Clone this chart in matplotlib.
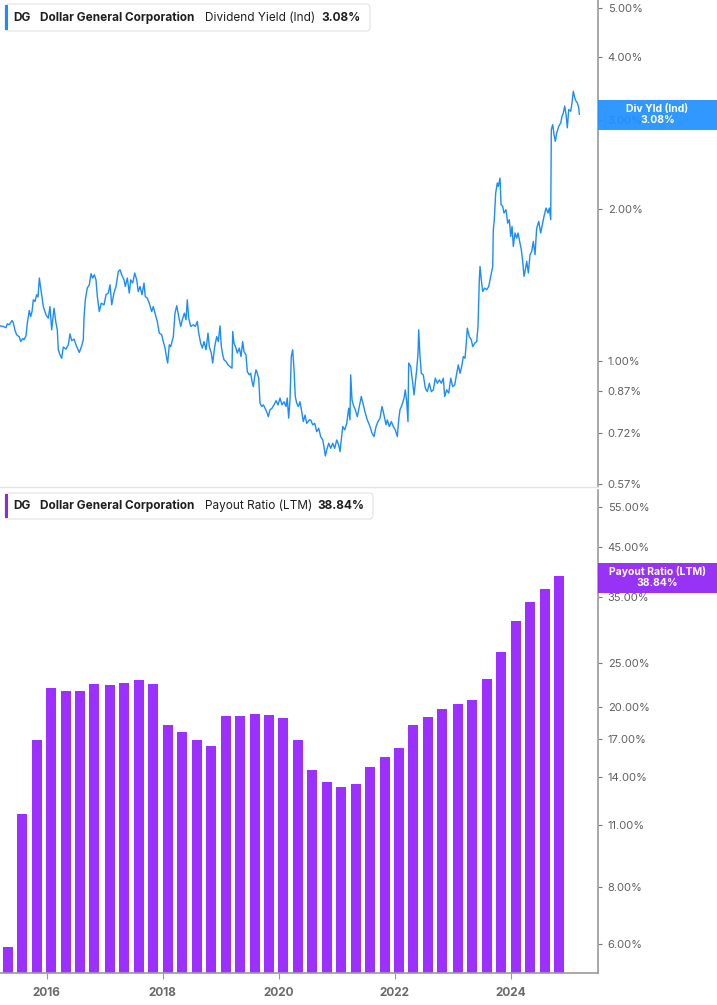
import matplotlib
matplotlib.use("Agg")
import matplotlib.pyplot as plt
import matplotlib.patches as mpatches
from matplotlib.transforms import IdentityTransform
from matplotlib.ticker import FixedLocator, FixedFormatter, NullLocator
import pandas as pd

plt.rcParams['font.family'] = ['Inter', 'DejaVu Sans']

# ---------------- data ----------------
ticker = "DG"
company = "Dollar General Corporation"
top_metric = "Dividend Yield (Ind)"
top_last = "3.08%"
bot_metric = "Payout Ratio (LTM)"
bot_last = "38.84%"

# Dividend yield (%) – decimal-year dates and values
yld_dates_a = [2015.195, 2015.252, 2015.298, 2015.321, 2015.355, 2015.402, 2015.424, 2015.454, 2015.483, 2015.528,
               2015.552, 2015.586, 2015.609, 2015.643, 2015.666, 2015.700, 2015.724, 2015.747, 2015.769, 2015.798,
               2015.828, 2015.850, 2015.873, 2015.897, 2015.919, 2015.942, 2015.988, 2016.028, 2016.057, 2016.086,
               2016.126, 2016.160, 2016.183, 2016.200, 2016.229, 2016.259, 2016.286, 2016.333, 2016.373, 2016.402,
               2016.431, 2016.471, 2016.517, 2016.562, 2016.604, 2016.631, 2016.643, 2016.666, 2016.700, 2016.735,
               2016.764, 2016.793, 2016.821, 2016.850, 2016.873, 2016.907, 2016.941, 2016.988, 2017.023, 2017.062,
               2017.092, 2017.121, 2017.160, 2017.195, 2017.235, 2017.264, 2017.293, 2017.333, 2017.355, 2017.390,
               2017.424, 2017.448, 2017.483, 2017.517, 2017.552, 2017.579, 2017.609, 2017.643, 2017.678, 2017.700,
               2017.735, 2017.769]
yld_vals_a = [1.173, 1.170, 1.163, 1.184, 1.179, 1.202, 1.191, 1.148, 1.126, 1.116,
              1.092, 1.107, 1.101, 1.121, 1.188, 1.258, 1.224, 1.252, 1.321, 1.311,
              1.352, 1.338, 1.459, 1.394, 1.341, 1.281, 1.234, 1.215, 1.281, 1.152,
              1.272, 1.188, 1.152, 1.052, 1.028, 1.012, 1.065, 1.055, 1.076, 1.131,
              1.097, 1.104, 1.067, 1.039, 1.071, 1.101, 1.215, 1.321, 1.394, 1.415,
              1.488, 1.459, 1.481, 1.447, 1.341, 1.252, 1.301, 1.291, 1.352, 1.362,
              1.415, 1.291, 1.362, 1.404, 1.503, 1.515, 1.481, 1.447, 1.404, 1.459,
              1.362, 1.447, 1.426, 1.493, 1.447, 1.372, 1.404, 1.352, 1.426, 1.341,
              1.331, 1.301]

yld_dates_b = [2017.810, 2017.838, 2017.867, 2017.907, 2017.941, 2017.983, 2018.010, 2018.040, 2018.069, 2018.086,
               2018.114, 2018.138, 2018.161, 2018.183, 2018.212, 2018.242, 2018.276, 2018.311, 2018.338, 2018.373,
               2018.402, 2018.424, 2018.448, 2018.483, 2018.528, 2018.562, 2018.597, 2018.621, 2018.655, 2018.683,
               2018.712, 2018.747, 2018.781, 2018.804, 2018.838, 2018.862, 2018.897, 2018.931, 2018.959, 2018.988,
               2019.011, 2019.035, 2019.057, 2019.092, 2019.126, 2019.161, 2019.195, 2019.207, 2019.229, 2019.264,
               2019.286, 2019.321, 2019.350, 2019.379, 2019.402, 2019.436, 2019.459, 2019.493, 2019.517, 2019.540,
               2019.562, 2019.586, 2019.609, 2019.631, 2019.655, 2019.678, 2019.707, 2019.735, 2019.764, 2019.793,
               2019.821, 2019.850, 2019.885, 2019.919, 2019.954, 2019.988, 2020.023, 2020.057, 2020.092, 2020.126,
               2020.148, 2020.172, 2020.195, 2020.217, 2020.241, 2020.264, 2020.286, 2020.311, 2020.338, 2020.367,
               2020.397, 2020.424, 2020.454, 2020.483, 2020.528]
yld_vals_b = [1.252, 1.281, 1.243, 1.197, 1.135, 1.126, 1.092, 1.060, 1.012, 0.990,
              1.076, 1.067, 1.092, 1.117, 1.243, 1.286, 1.224, 1.170, 1.206, 1.243,
              1.206, 1.321, 1.215, 1.170, 1.179, 1.170, 1.197, 1.135, 1.084, 1.060,
              1.092, 1.052, 1.135, 1.067, 1.036, 0.990, 1.067, 1.117, 1.092, 1.173,
              1.067, 1.028, 1.005, 0.997, 0.982, 0.974, 0.967, 1.143, 1.084, 1.060,
              1.036, 1.060, 1.020, 1.092, 1.043, 1.028, 0.952, 0.938, 0.945, 0.910,
              0.889, 0.931, 0.960, 0.945, 0.924, 0.824, 0.812, 0.818, 0.806, 0.793,
              0.775, 0.800, 0.806, 0.818, 0.834, 0.818, 0.844, 0.818, 0.830, 0.812,
              0.844, 0.770, 0.837, 1.020, 1.052, 0.960, 0.850, 0.824, 0.812, 0.830,
              0.793, 0.758, 0.781, 0.752, 0.764]

yld_dates_c = [2020.551, 2020.586, 2020.621, 2020.655, 2020.690, 2020.724, 2020.759, 2020.781, 2020.804, 2020.828,
               2020.862, 2020.897, 2020.931, 2020.966, 2021.000, 2021.035, 2021.057, 2021.079, 2021.104, 2021.138,
               2021.173, 2021.207, 2021.229, 2021.241, 2021.264, 2021.286, 2021.321, 2021.355, 2021.390, 2021.424,
               2021.459, 2021.493, 2021.528, 2021.574, 2021.609, 2021.643, 2021.678, 2021.712, 2021.747, 2021.781,
               2021.816, 2021.850, 2021.873, 2021.907, 2021.942, 2021.976, 2022.010, 2022.045, 2022.069, 2022.091,
               2022.126, 2022.161, 2022.183, 2022.207, 2022.229, 2022.241, 2022.276, 2022.311, 2022.333, 2022.355,
               2022.379, 2022.402, 2022.414, 2022.436, 2022.459, 2022.493, 2022.528, 2022.562, 2022.597, 2022.631,
               2022.666, 2022.700, 2022.735, 2022.769, 2022.804, 2022.838, 2022.862, 2022.897, 2022.931, 2022.966,
               2023.000, 2023.035, 2023.069, 2023.097, 2023.126]
yld_vals_c = [0.764, 0.747, 0.752, 0.724, 0.735, 0.708, 0.697, 0.676, 0.648, 0.666,
              0.687, 0.671, 0.687, 0.671, 0.697, 0.681, 0.661, 0.697, 0.741, 0.730,
              0.752, 0.806, 0.764, 0.938, 0.837, 0.818, 0.800, 0.775, 0.812, 0.850,
              0.818, 0.788, 0.764, 0.741, 0.719, 0.708, 0.741, 0.758, 0.770, 0.812,
              0.781, 0.747, 0.764, 0.741, 0.758, 0.741, 0.730, 0.708, 0.764, 0.800,
              0.818, 0.844, 0.876, 0.830, 0.758, 0.990, 0.974, 0.903, 0.856, 0.903,
              0.960, 1.036, 1.152, 1.020, 0.945, 0.938, 0.883, 0.869, 0.903, 0.869,
              0.876, 0.924, 0.903, 0.917, 0.903, 0.924, 0.850, 0.876, 0.863, 0.924,
              0.889, 0.896, 0.945, 0.982, 0.945]

yld_dates_d = [2023.155, 2023.183, 2023.212, 2023.229, 2023.252, 2023.286, 2023.321, 2023.345, 2023.379, 2023.414,
               2023.436, 2023.459, 2023.471, 2023.493, 2023.517, 2023.552, 2023.586, 2023.621, 2023.643, 2023.672,
               2023.690, 2023.700, 2023.717, 2023.741, 2023.769, 2023.786, 2023.816, 2023.833, 2023.862, 2023.884,
               2023.919, 2023.948, 2023.976, 2024.000, 2024.023, 2024.045, 2024.074, 2024.104, 2024.126, 2024.161,
               2024.183, 2024.207, 2024.229, 2024.252, 2024.276, 2024.304, 2024.333, 2024.362, 2024.390, 2024.419,
               2024.448, 2024.483, 2024.517, 2024.540, 2024.574, 2024.609, 2024.643, 2024.666, 2024.690, 2024.700,
               2024.724, 2024.747, 2024.769, 2024.793, 2024.828, 2024.862, 2024.885, 2024.907, 2024.931, 2024.954,
               2024.976, 2025.000, 2025.035, 2025.057, 2025.079, 2025.104, 2025.126, 2025.148, 2025.172, 2025.183]
yld_vals_d = [0.974, 1.020, 1.012, 1.067, 1.161, 1.117, 1.101, 1.067, 1.084, 1.092,
              1.170, 1.447, 1.538, 1.447, 1.372, 1.394, 1.383, 1.404, 1.447, 1.503,
              1.538, 1.819, 1.904, 2.150, 2.251, 2.216, 2.302, 2.039, 2.023, 1.963,
              1.993, 1.874, 1.904, 1.764, 1.847, 1.685, 1.792, 1.750, 1.792, 1.712,
              1.660, 1.574, 1.470, 1.515, 1.574, 1.493, 1.623, 1.647, 1.724, 1.623,
              1.832, 1.889, 1.792, 1.847, 1.933, 2.008, 1.963, 2.008, 1.904, 2.871,
              2.937, 2.806, 2.722, 2.828, 2.914, 2.961, 3.050, 3.098, 3.196, 3.074,
              2.895, 3.147, 3.122, 3.246, 3.420, 3.320, 3.270, 3.246, 3.171, 3.080]

# Payout ratio (LTM, %) – fiscal quarter ends
payout_dates = ['2015-05-01', '2015-07-31', '2015-10-30', '2016-01-29', '2016-04-29', '2016-07-29',
                '2016-10-28', '2017-02-03', '2017-05-05', '2017-08-04', '2017-11-03', '2018-02-02',
                '2018-05-04', '2018-08-03', '2018-11-02', '2019-02-01', '2019-05-03', '2019-08-02',
                '2019-11-01', '2020-01-31', '2020-05-01', '2020-07-31', '2020-10-30', '2021-01-29',
                '2021-04-30', '2021-07-30', '2021-10-29', '2022-01-28', '2022-04-29', '2022-07-29',
                '2022-10-28', '2023-02-03', '2023-05-05', '2023-08-04', '2023-11-03', '2024-02-02',
                '2024-05-03', '2024-08-02', '2024-11-01']
payout_vals = [5.9, 11.6, 16.9, 22.0, 21.7, 21.7, 22.5, 22.3, 22.6, 22.9,
               22.5, 18.2, 17.6, 16.9, 16.4, 19.1, 19.1, 19.3, 19.2, 18.9,
               16.9, 14.5, 13.65, 13.3, 13.5, 14.7, 15.5, 16.2, 18.2, 19.0,
               19.8, 20.3, 20.7, 23.0, 26.4, 30.9, 34.1, 36.4, 38.84]

top_ticks = [5.0, 4.0, 3.0, 2.0, 1.0, 0.87, 0.72, 0.57]
bot_ticks = [55, 45, 35, 25, 20, 17, 14, 11, 8, 6]
year_ticks = [2016, 2018, 2020, 2022, 2024]

for d, v in [(yld_dates_a, yld_vals_a), (yld_dates_b, yld_vals_b),
             (yld_dates_c, yld_vals_c), (yld_dates_d, yld_vals_d)]:
    assert len(d) == len(v), (len(d), len(v))
assert len(payout_dates) == len(payout_vals)

yld_dates = yld_dates_a + yld_dates_b + yld_dates_c + yld_dates_d
yld_vals = yld_vals_a + yld_vals_b + yld_vals_c + yld_vals_d

pd_dates = pd.to_datetime(payout_dates)
payout_x = [d.year + (d.dayofyear - 1) / (366 if d.is_leap_year else 365) for d in pd_dates]

# ---------------- styling ----------------
W, H = 717, 1005
BLUE = '#1a8cff'
BADGE_BLUE = '#2090ff'
PURPLE = '#9b30ff'
BADGE_PURPLE = '#9022f5'
GRAY_TXT = '#5f5f5f'
SPINE = '#9a9a9a'
XMIN, XMAX = 2015.195, 2025.505

fig = plt.figure(figsize=(W / 100, H / 100), dpi=100)
fig.patch.set_facecolor('white')


def fr(x0, y0, x1, y1):
    return [x0 / W, 1 - y1 / H, (x1 - x0) / W, (y1 - y0) / H]


ax1 = fig.add_axes(fr(0, 0, 598, 487))
ax2 = fig.add_axes(fr(0, 490, 598, 973))

for ax in (ax1, ax2):
    ax.set_facecolor('white')
    ax.set_yscale('log')
    ax.set_xlim(XMIN, XMAX)
    for s in ('left', 'top'):
        ax.spines[s].set_visible(False)
    ax.spines['right'].set_color(SPINE)
    ax.spines['right'].set_linewidth(1.2)
    ax.yaxis.set_ticks_position('right')
    ax.yaxis.set_minor_locator(NullLocator())
    ax.tick_params(axis='y', which='major', direction='out', length=3, width=0.8,
                   color='#777777', labelsize=8, labelcolor=GRAY_TXT, pad=4)

# top panel
ax1.plot(yld_dates, yld_vals, color=BLUE, lw=1.0, solid_joinstyle='round')
ax1.set_ylim(0.5625, 5.186)
ax1.yaxis.set_major_locator(FixedLocator(top_ticks))
ax1.yaxis.set_major_formatter(FixedFormatter([f"{t:.2f}%" for t in top_ticks]))
ax1.spines['bottom'].set_color('#e3e3e3')
ax1.spines['bottom'].set_linewidth(1.0)
ax1.set_xticks([])

# bottom panel
YMIN2, YMAX2 = 5.18, 60.1
ax2.bar(payout_x, [v - YMIN2 for v in payout_vals], bottom=YMIN2, width=0.172,
        color=PURPLE, align='center', zorder=2)
ax2.set_ylim(YMIN2, YMAX2)
ax2.yaxis.set_major_locator(FixedLocator(bot_ticks))
ax2.yaxis.set_major_formatter(FixedFormatter([f"{t:.2f}%" for t in bot_ticks]))
ax2.spines['bottom'].set_color(SPINE)
ax2.spines['bottom'].set_linewidth(1.2)
ax2.set_xticks(year_ticks)
ax2.set_xticklabels([str(y) for y in year_ticks], fontweight='bold')
ax2.tick_params(axis='x', direction='out', length=4, width=0.8, color='#999999',
                labelsize=8.5, labelcolor='#6a6a6a', pad=6)

ID = IdentityTransform()


def ftext(x, y, s, **kw):
    fig.text(x, H - y, s, transform=ID, **kw)


def legend(y0, y1, x1, color, metric, last, xs):
    box = mpatches.FancyBboxPatch((5, H - y1), x1 - 5, y1 - y0,
                                  boxstyle='round,pad=0,rounding_size=4',
                                  facecolor='white', edgecolor='#e2e2e2', lw=0.8,
                                  transform=ID, zorder=5)
    fig.add_artist(box)
    bar = mpatches.Rectangle((5, H - y1 + 1), 3, y1 - y0 - 2, facecolor=color,
                             edgecolor='none', transform=ID, zorder=6)
    fig.add_artist(bar)
    yc = (y0 + y1) / 2
    kw = dict(va='center', ha='left', fontsize=8.5, color='#1f1f1f', zorder=7)
    ftext(xs[0], yc, ticker, fontweight='bold', **kw)
    ftext(xs[1], yc, company, fontweight='bold', **kw)
    ftext(xs[2], yc, metric, fontweight='normal', **kw)
    ftext(xs[3], yc, last, fontweight='bold', **kw)


legend(4, 31, 370, BLUE, top_metric, top_last, [13, 40, 205, 321])
legend(493, 519, 373, '#8a2be2', bot_metric, bot_last, [13, 40, 205, 317])


def badge(y0, y1, color, line1, line2):
    r = mpatches.Rectangle((598, H - y1), W - 598, y1 - y0, facecolor=color,
                           edgecolor='none', alpha=0.93, transform=ID, zorder=8)
    fig.add_artist(r)
    xc = (598 + W) / 2
    kw = dict(ha='center', va='center', fontsize=7.5, color='white', fontweight='bold', zorder=9)
    ftext(xc, y0 + 8.5, line1, **kw)
    ftext(xc, y0 + 20, line2, **kw)


badge(100, 130, BADGE_BLUE, "Div Yld (Ind)", top_last)
badge(563, 593, BADGE_PURPLE, bot_metric, bot_last)

fig.savefig('out.png', dpi=100, facecolor='white')
